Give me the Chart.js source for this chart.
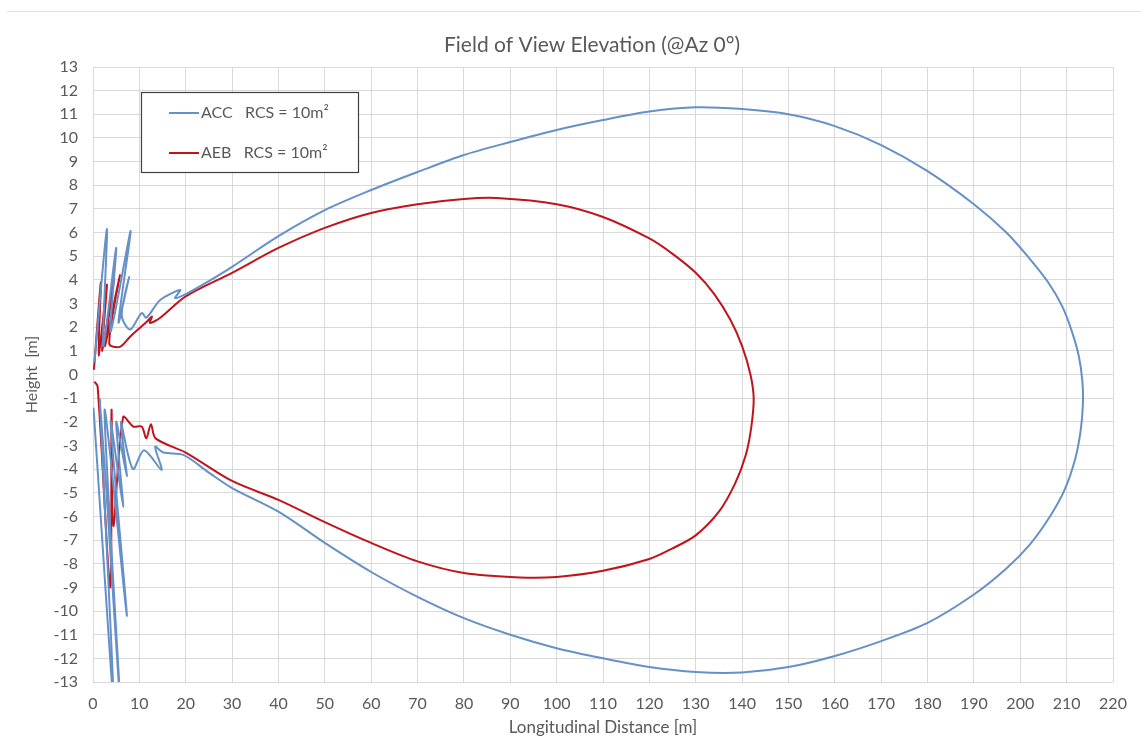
<!DOCTYPE html>
<html>
<head>
<meta charset="utf-8">
<script src="https://cdn.jsdelivr.net/npm/chart.js@4.4.1/dist/chart.umd.min.js"></script>
<style>
  html, body { margin: 0; padding: 0; background: #ffffff; }
  #wrap { position: relative; width: 1141px; height: 742px; }
  #topline { position: absolute; left: 7px; right: 0; top: 11px; height: 0; border-top: 1px solid #e2e2e2; }
  canvas { position: absolute; left: 0; top: 0; }
</style>
</head>
<body>
<div id="wrap">
  <div id="topline"></div>
  <canvas id="c" width="1141" height="742"></canvas>
</div>
<script>
// ---- Data ----
const chartTitle = "Field of View Elevation (@Az 0°)";
const xAxisTitle = "Longitudinal Distance [m]";
const yAxisTitle = "Height  [m]";
const seriesNames = ["ACC   RCS = 10m²", "AEB   RCS = 10m²"];

const accX = [0.3, 3.0, 2.2, 5.0, 3.8, 8.1, 5.5, 7.8, 6.2, 8.0, 10.5, 11.5, 14.5, 18.8, 17.7, 20, 25, 30, 40, 50, 60, 70, 80, 90, 100, 110, 120, 130, 140, 150, 160, 170, 180, 190, 197, 202, 206, 209, 211, 212.6, 213.4, 213.5, 213, 211.8, 209.5, 206.4, 202, 197, 190, 180, 170, 160, 150, 140, 130, 120, 110, 100, 90, 80, 70, 60, 50, 40, 30, 25, 19.5, 15.2, 13.4, 14.8, 11, 8.6, 6, 7.3, 5, 6.5, 3.8, 7.3, 2.5, 5.9, 1.5, 4.5, 0.1];
const accY = [0.5, 6.15, 1.2, 5.35, 1.8, 6.07, 2.2, 4.12, 2.5, 1.9, 2.6, 2.4, 3.15, 3.57, 3.23, 3.4, 3.95, 4.55, 5.85, 6.95, 7.8, 8.56, 9.28, 9.83, 10.34, 10.76, 11.12, 11.3, 11.22, 11.0, 10.5, 9.7, 8.6, 7.2, 6.0, 4.9, 3.9, 2.9, 1.9, 0.8, -0.3, -1.3, -2.4, -3.6, -4.9, -6.0, -7.2, -8.2, -9.3, -10.5, -11.27, -11.9, -12.37, -12.6, -12.58, -12.37, -12.0, -11.57, -11.0, -10.3, -9.4, -8.35, -7.12, -5.8, -4.8, -4.15, -3.4, -3.3, -3.05, -4.04, -3.2, -4.0, -2.0, -4.3, -2.0, -5.6, -2.0, -10.2, -1.5, -14, -1.0, -14, -1.4];

const aebX = [0.2, 1.7, 1.2, 3.0, 2.0, 4.5, 2.6, 5.8, 3.5, 5.8, 8, 11.6, 12.7, 12.3, 14.5, 20, 30, 40, 50, 60, 70, 80, 87, 100, 110, 120, 125, 130, 134, 137.5, 140, 141.8, 142.5, 142, 140.8, 138.5, 135, 130, 125, 120, 110, 100, 92, 80, 70, 60, 50, 40, 30, 20, 13.5, 12.5, 11.5, 10.5, 8.7, 6.5, 4.4, 4.0, 3.7, 1.0, 0.3];
const aebY = [0.2, 3.9, 0.8, 3.8, 1.0, 4.0, 1.2, 4.2, 1.3, 1.17, 1.6, 2.23, 2.45, 2.18, 2.4, 3.3, 4.3, 5.35, 6.2, 6.83, 7.2, 7.42, 7.46, 7.2, 6.66, 5.75, 5.1, 4.3, 3.4, 2.3, 1.2, 0.0, -1.0, -2.2, -3.4, -4.6, -5.8, -6.8, -7.35, -7.8, -8.3, -8.56, -8.58, -8.39, -7.9, -7.12, -6.24, -5.3, -4.5, -3.3, -2.7, -2.1, -2.7, -2.2, -2.2, -1.8, -6.4, -1.5, -9.0, -0.5, -0.3];

const xTicks = [0, 10, 20, 30, 40, 50, 60, 70, 80, 90, 100, 110, 120, 130, 140, 150, 160, 170, 180, 190, 200, 210, 220];
const yTicks = [-13, -12, -11, -10, -9, -8, -7, -6, -5, -4, -3, -2, -1, 0, 1, 2, 3, 4, 5, 6, 7, 8, 9, 10, 11, 12, 13];

const seriesColors = ["#6690c8", "#c0141c"];

// ---- Build ----
const toPts = (xs, ys) => xs.map((x, i) => ({ x: x, y: ys[i] }));
const FONT = "Lato, 'Open Sans', sans-serif";
const TXT = "#595959";

const overlay = {
  id: 'overlay',
  afterDraw(chart) {
    const ctx = chart.ctx;
    ctx.save();
    // title
    ctx.fillStyle = TXT;
    ctx.font = "21px " + FONT;
    ctx.textAlign = "center";
    ctx.textBaseline = "middle";
    ctx.fillText(chartTitle, 592, 45);
    // legend box
    const bx = 141, by = 92, bw = 217, bh = 80;
    ctx.fillStyle = "#ffffff";
    ctx.fillRect(bx, by, bw, bh);
    ctx.strokeStyle = "#404040";
    ctx.lineWidth = 1.2;
    ctx.strokeRect(bx + 0.5, by + 0.5, bw, bh);
    ctx.font = "16px " + FONT;
    ctx.textAlign = "left";
    chart.data.datasets.forEach((ds, i) => {
      const yy = by + 21 + i * 40;
      ctx.strokeStyle = ds.borderColor;
      ctx.lineWidth = 2;
      ctx.beginPath();
      ctx.moveTo(bx + 28, yy);
      ctx.lineTo(bx + 58, yy);
      ctx.stroke();
      ctx.fillStyle = TXT;
      ctx.fillText(ds.label, bx + 60, yy);
    });
    ctx.restore();
  }
};

new Chart(document.getElementById('c'), {
  type: 'scatter',
  data: {
    datasets: [
      { label: seriesNames[0], data: toPts(accX, accY), showLine: true, borderColor: seriesColors[0], backgroundColor: seriesColors[0], borderWidth: 2, pointRadius: 0, tension: 0.3 },
      { label: seriesNames[1], data: toPts(aebX, aebY), showLine: true, borderColor: seriesColors[1], backgroundColor: seriesColors[1], borderWidth: 2, pointRadius: 0, tension: 0.3 }
    ]
  },
  options: {
    responsive: false,
    animation: false,
    layout: { padding: { left: 0, right: 28, top: 67, bottom: 0 } },
    plugins: { legend: { display: false }, title: { display: false }, tooltip: { enabled: false } },
    scales: {
      x: {
        type: 'linear', min: 0, max: 220,
        afterBuildTicks: (s) => { s.ticks = xTicks.map(v => ({ value: v })); },
        afterFit: (s) => { s.height = 60; },
        grid: { color: "#d9d9d9", lineWidth: 1, drawTicks: false },
        border: { display: false },
        ticks: { color: TXT, font: { family: FONT, size: 16 }, padding: 12, maxRotation: 0, autoSkip: false },
        title: { display: true, text: xAxisTitle, color: TXT, font: { family: FONT, size: 17 }, padding: { top: 0, bottom: 4 } }
      },
      y: {
        type: 'linear', min: -13, max: 13,
        afterBuildTicks: (s) => { s.ticks = yTicks.map(v => ({ value: v })); },
        afterFit: (s) => { s.width = 93; },
        grid: { color: "#d9d9d9", lineWidth: 1, drawTicks: false },
        border: { display: false },
        ticks: { color: TXT, font: { family: FONT, size: 16 }, padding: 15, autoSkip: false },
        title: { display: true, text: yAxisTitle, color: TXT, font: { family: FONT, size: 16 }, padding: { top: 22, bottom: 0 } }
      }
    }
  },
  plugins: [overlay]
});
</script>
</body>
</html>
